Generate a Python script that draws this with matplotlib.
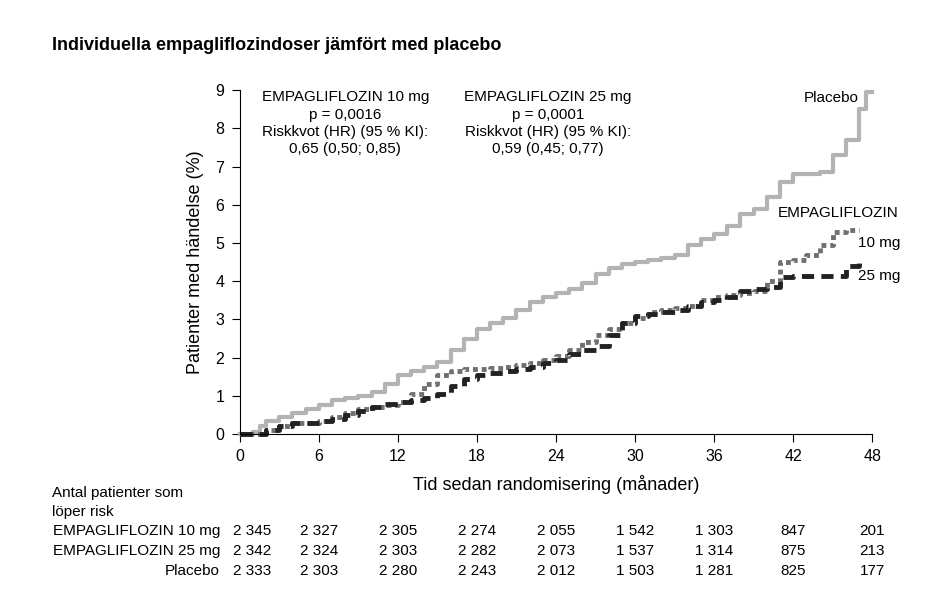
import matplotlib
matplotlib.use("Agg")
import matplotlib.pyplot as plt
import matplotlib.transforms as mt

plt.rcParams['font.family'] = ['Liberation Sans', 'DejaVu Sans']

pl_x = [0,1,1.5,2,3,4,5,6,7,8,9,10,11,12,13,14,15,16,17,18,19,20,21,22,23,24,25,26,27,28,29,30,31,32,33,34,35,36,37,38,39,40,41,42,43,44,45,46,47,47.5,48]
pl_y = [0,0.05,0.2,0.35,0.45,0.55,0.65,0.75,0.9,0.95,1.0,1.1,1.3,1.55,1.65,1.75,1.9,2.2,2.5,2.75,2.9,3.05,3.25,3.45,3.6,3.7,3.8,3.95,4.2,4.35,4.45,4.5,4.55,4.6,4.7,4.95,5.1,5.25,5.45,5.75,5.9,6.2,6.6,6.8,6.8,6.85,7.3,7.7,8.5,8.95,8.95]
e10_x = list(range(0,48)); e10_x.remove(1)
e10_y = [0,0.1,0.2,0.3,0.3,0.35,0.45,0.55,0.65,0.7,0.75,0.85,1.05,1.3,1.55,1.65,1.7,1.7,1.72,1.75,1.8,1.85,1.95,2.05,2.2,2.4,2.6,2.75,2.9,3.05,3.2,3.25,3.3,3.35,3.5,3.6,3.65,3.7,3.75,4.0,4.5,4.55,4.7,4.95,5.3,5.35,5.35]
e25_x = list(range(0,48)); e25_x.remove(1)
e25_y = [0,0.1,0.2,0.3,0.3,0.35,0.4,0.5,0.6,0.7,0.78,0.85,0.9,0.95,1.05,1.25,1.45,1.55,1.6,1.65,1.7,1.75,1.85,1.95,2.1,2.2,2.3,2.6,2.9,3.1,3.15,3.2,3.25,3.35,3.45,3.5,3.6,3.75,3.8,3.85,4.1,4.15,4.15,4.15,4.15,4.4,4.5]

months = [0,6,12,18,24,30,36,42,48]
risk_labels = ["EMPAGLIFLOZIN 10 mg", "EMPAGLIFLOZIN 25 mg", "Placebo"]
risk = [["2 345","2 327","2 305","2 274","2 055","1 542","1 303","847","201"],
        ["2 342","2 324","2 303","2 282","2 073","1 537","1 314","875","213"],
        ["2 333","2 303","2 280","2 243","2 012","1 503","1 281","825","177"]]

fig = plt.figure(figsize=(9.44,6.14), dpi=100)
ax = fig.add_axes([0.254,0.293,0.67,0.56])
ax.step(pl_x, pl_y, where='post', color='#b3b3b3', lw=3)
ax.step(e10_x, e10_y, where='post', color='#707070', lw=3.5, ls=(0,(1,0.8)))
ax.step(e25_x, e25_y, where='post', color='#222222', lw=3.5, ls=(0,(2.5,1.5)))
ax.set_xlim(0,48); ax.set_ylim(0,9)
ax.set_xticks(months); ax.set_yticks(range(10))
for s in ['top','right']: ax.spines[s].set_visible(False)
ax.tick_params(labelsize=11.5, length=6, pad=5)
ax.set_ylabel("Patienter med händelse (%)", fontsize=13, labelpad=8)
ax.set_xlabel("Tid sedan randomisering (månader)", fontsize=13, labelpad=8)
ax.text(8.0,9.0,"EMPAGLIFLOZIN 10 mg\np = 0,0016\nRiskkvot (HR) (95 % KI):\n0,65 (0,50; 0,85)",ha='center',va='top',fontsize=11,linespacing=1.3)
ax.text(23.4,9.0,"EMPAGLIFLOZIN 25 mg\np = 0,0001\nRiskkvot (HR) (95 % KI):\n0,59 (0,45; 0,77)",ha='center',va='top',fontsize=11,linespacing=1.3)
ax.text(47,8.8,"Placebo",ha='right',va='center',fontsize=11)
ax.text(50,5.8,"EMPAGLIFLOZIN",ha='right',va='center',fontsize=11)
ax.text(46.9,5.0,"10 mg",ha='left',va='center',fontsize=11)
ax.text(46.9,4.15,"25 mg",ha='left',va='center',fontsize=11)
for l in ax.lines: l.set_clip_on(False)

fig.text(52/944,1-46/614,"Individuella empagliflozindoser jämfört med placebo",fontsize=13,fontweight='bold',va='center')
fig.text(52/944,1-493/614,"Antal patienter som",fontsize=11,va='center')
fig.text(52/944,1-512/614,"löper risk",fontsize=11,va='center')
tr = mt.blended_transform_factory(ax.transData, fig.transFigure)
for i,(lab,row) in enumerate(zip(risk_labels,risk)):
    yy = 1-(531+20*i)/614
    fig.text(220/944,yy,lab,ha='right',va='center',fontsize=11)
    for m,v in zip(months,row):
        ax.text(m+0.9 if m==0 else m,yy,v,transform=tr,ha='center',va='center',fontsize=11,clip_on=False)
fig.savefig("out.png",dpi=100)
